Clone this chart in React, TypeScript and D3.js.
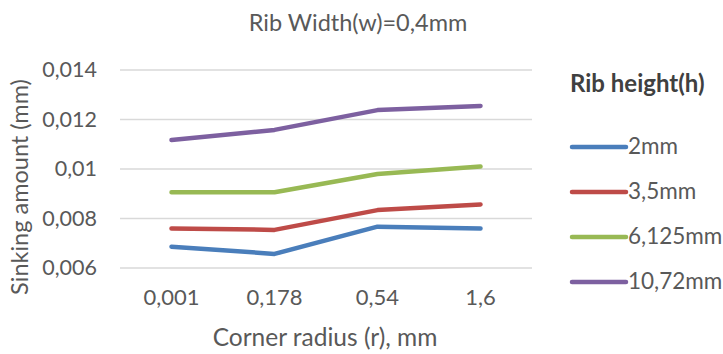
import React from "react";
import * as d3 from "d3";

const categories = ["0,001", "0,178", "0,54", "1,6"];
const seriesNames = ["2mm", "3,5mm", "6,125mm", "10,72mm"];
const s2mm = [0.00686, 0.00657, 0.00767, 0.0076];
const s35mm = [0.0076, 0.00754, 0.00834, 0.00857];
const s6125mm = [0.00906, 0.00906, 0.0098, 0.0101];
const s1072mm = [0.01117, 0.01158, 0.01238, 0.01255];
const yTicks = [0.006, 0.008, 0.01, 0.012, 0.014];
const yTickLabels = ["0,006", "0,008", "0,01", "0,012", "0,014"];
const colors = ["#4a7ebb", "#be4b48", "#98b954", "#7d60a0"];

const allSeries = [s2mm, s35mm, s6125mm, s1072mm];

export default function App() {
  const W = 723, H = 354;
  const left = 120, right = 532, top = 70, bottom = 268;
  const x = d3.scaleBand<string>().domain(categories).range([left, right]).paddingInner(0).paddingOuter(0);
  const y = d3.scaleLinear().domain([0.006, 0.014]).range([bottom, top]);
  const line = d3.line<number>()
    .x((_, i) => (x(categories[i]) as number) + x.bandwidth() / 2)
    .y((d) => y(d));
  const font = "Lato, 'Open Sans', sans-serif";
  const txt = "#595959";
  return (
    <svg width={W} height={H} style={{ position: "absolute", left: 0, top: 0, background: "#fff" }}
      fontFamily={font}>
      <text x={358} y={31} textAnchor="middle" fontSize={23.5} fill={txt}>Rib Width(w)=0,4mm</text>
      {yTicks.map((t, i) => (
        <g key={i}>
          <line x1={left} x2={right} y1={y(t)} y2={y(t)} stroke="#d9d9d9" strokeWidth={1.3} />
          <text x={97} y={y(t) + 7} textAnchor="end" fontSize={21.5} fill={txt}>{yTickLabels[i]}</text>
        </g>
      ))}
      {categories.map((c) => (
        <text key={c} x={(x(c) as number) + x.bandwidth() / 2} y={305} textAnchor="middle" fontSize={22} fill={txt}>{c}</text>
      ))}
      <text x={325} y={346} textAnchor="middle" fontSize={24.5} fill={txt}>Corner radius (r), mm</text>
      <text transform={`translate(28,187) rotate(-90)`} textAnchor="middle" fontSize={23.5} fill={txt}>Sinking amount (mm)</text>
      {allSeries.map((s, i) => (
        <path key={i} d={line(s) as string} fill="none" stroke={colors[i]} strokeWidth={4.5} strokeLinecap="round" strokeLinejoin="round" />
      ))}
      <text x={570} y={92} fontSize={24} fontWeight="bold" fill="#404040">Rib height(h)</text>
      {seriesNames.map((n, i) => {
        const ly = 147 + i * 45;
        return (
          <g key={n}>
            <line x1={572} x2={626} y1={ly} y2={ly} stroke={colors[i]} strokeWidth={4.5} strokeLinecap="round" />
            <text x={628} y={ly + 7} fontSize={22.5} fill={txt}>{n}</text>
          </g>
        );
      })}
    </svg>
  );
}
